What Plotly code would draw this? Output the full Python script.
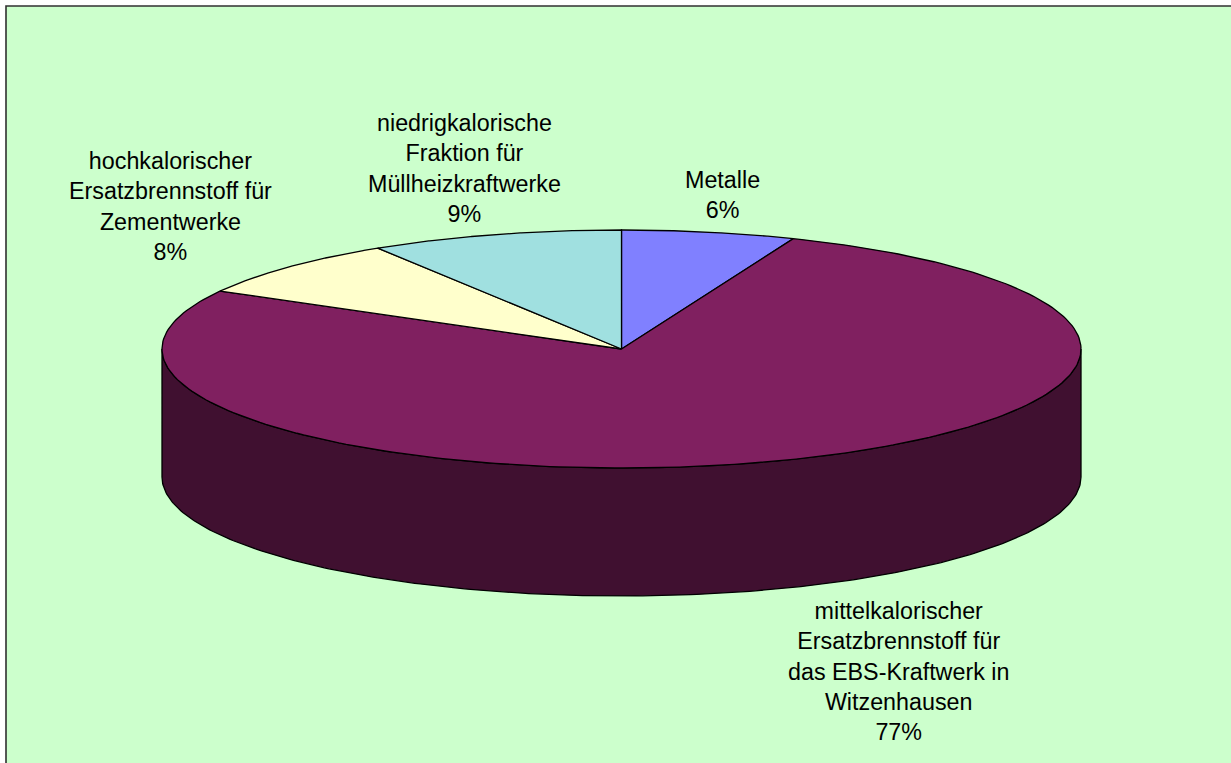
import numpy as np
import plotly.graph_objects as go

# Data
labels = [
    "Metalle",
    "mittelkalorischer<br>Ersatzbrennstoff für<br>das EBS-Kraftwerk in<br>Witzenhausen",
    "hochkalorischer<br>Ersatzbrennstoff für<br>Zementwerke",
    "niedrigkalorische<br>Fraktion für<br>Müllheizkraftwerke",
]
values = [6.1, 77.0, 8.0, 8.9]
colors = ["#8080FF", "#802060", "#FFFFCC", "#A0E0E0"]
side_colors = ["#404080", "#401030", "#808066", "#507070"]
label_x = [722, 898, 170, 464]
label_y = [195, 671, 206, 168]

# Pie geometry in page pixels
CX, CY, RX, RY, DEPTH = 621.5, 349, 459.5, 119, 128
W, H = 1231, 763
BG = "#CCFFCC"


def rim(f):
    a = 2 * np.pi * np.asarray(f)
    return CX + RX * np.sin(a), CY - RY * np.cos(a)


fig = go.Figure()
fractions = np.cumsum([0] + values) / sum(values)

# side wall: only the front half (fractions 0.25 .. 0.75) is visible
for i in range(len(values)):
    lo, hi = max(fractions[i], 0.25), min(fractions[i + 1], 0.75)
    if hi <= lo:
        continue
    f = np.linspace(lo, hi, 240)
    x, y = rim(f)
    fig.add_trace(go.Scatter(
        x=np.r_[x, x[::-1], x[0]], y=np.r_[y, y[::-1] + DEPTH, y[0]],
        mode="lines", fill="toself", fillcolor=side_colors[i],
        line=dict(color="#000000", width=1.3), hoverinfo="skip", showlegend=False,
    ))

# top face slices
for i in range(len(values)):
    f = np.linspace(fractions[i], fractions[i + 1], 240)
    x, y = rim(f)
    fig.add_trace(go.Scatter(
        x=np.r_[CX, x, CX], y=np.r_[CY, y, CY],
        mode="lines", fill="toself", fillcolor=colors[i],
        line=dict(color="#000000", width=1.3), hoverinfo="skip", showlegend=False,
    ))

annotations = [
    dict(x=lx, y=ly, xref="x", yref="y", text=f"{t}<br>{round(v)}%", showarrow=False,
         xanchor="center", yanchor="middle", align="center",
         font=dict(family="Liberation Sans, Arial, sans-serif", size=23.3, color="#000000"))
    for t, v, lx, ly in zip(labels, values, label_x, label_y)
]

fig.update_layout(
    width=W, height=H, autosize=False,
    margin=dict(l=0, r=0, t=0, b=0),
    paper_bgcolor="#FFFFFF", plot_bgcolor="#FFFFFF",
    xaxis=dict(range=[0, W], visible=False, fixedrange=True),
    yaxis=dict(range=[H, 0], visible=False, fixedrange=True),
    shapes=[dict(type="rect", xref="x", yref="y", x0=6, y0=6, x1=W + 5, y1=H + 5,
                 fillcolor=BG, line=dict(color="#303030", width=1.6), layer="below")],
    annotations=annotations,
    showlegend=False,
)

fig.write_html("out.html", config={"displayModeBar": False},
               post_script="document.body.style.margin='0';")
